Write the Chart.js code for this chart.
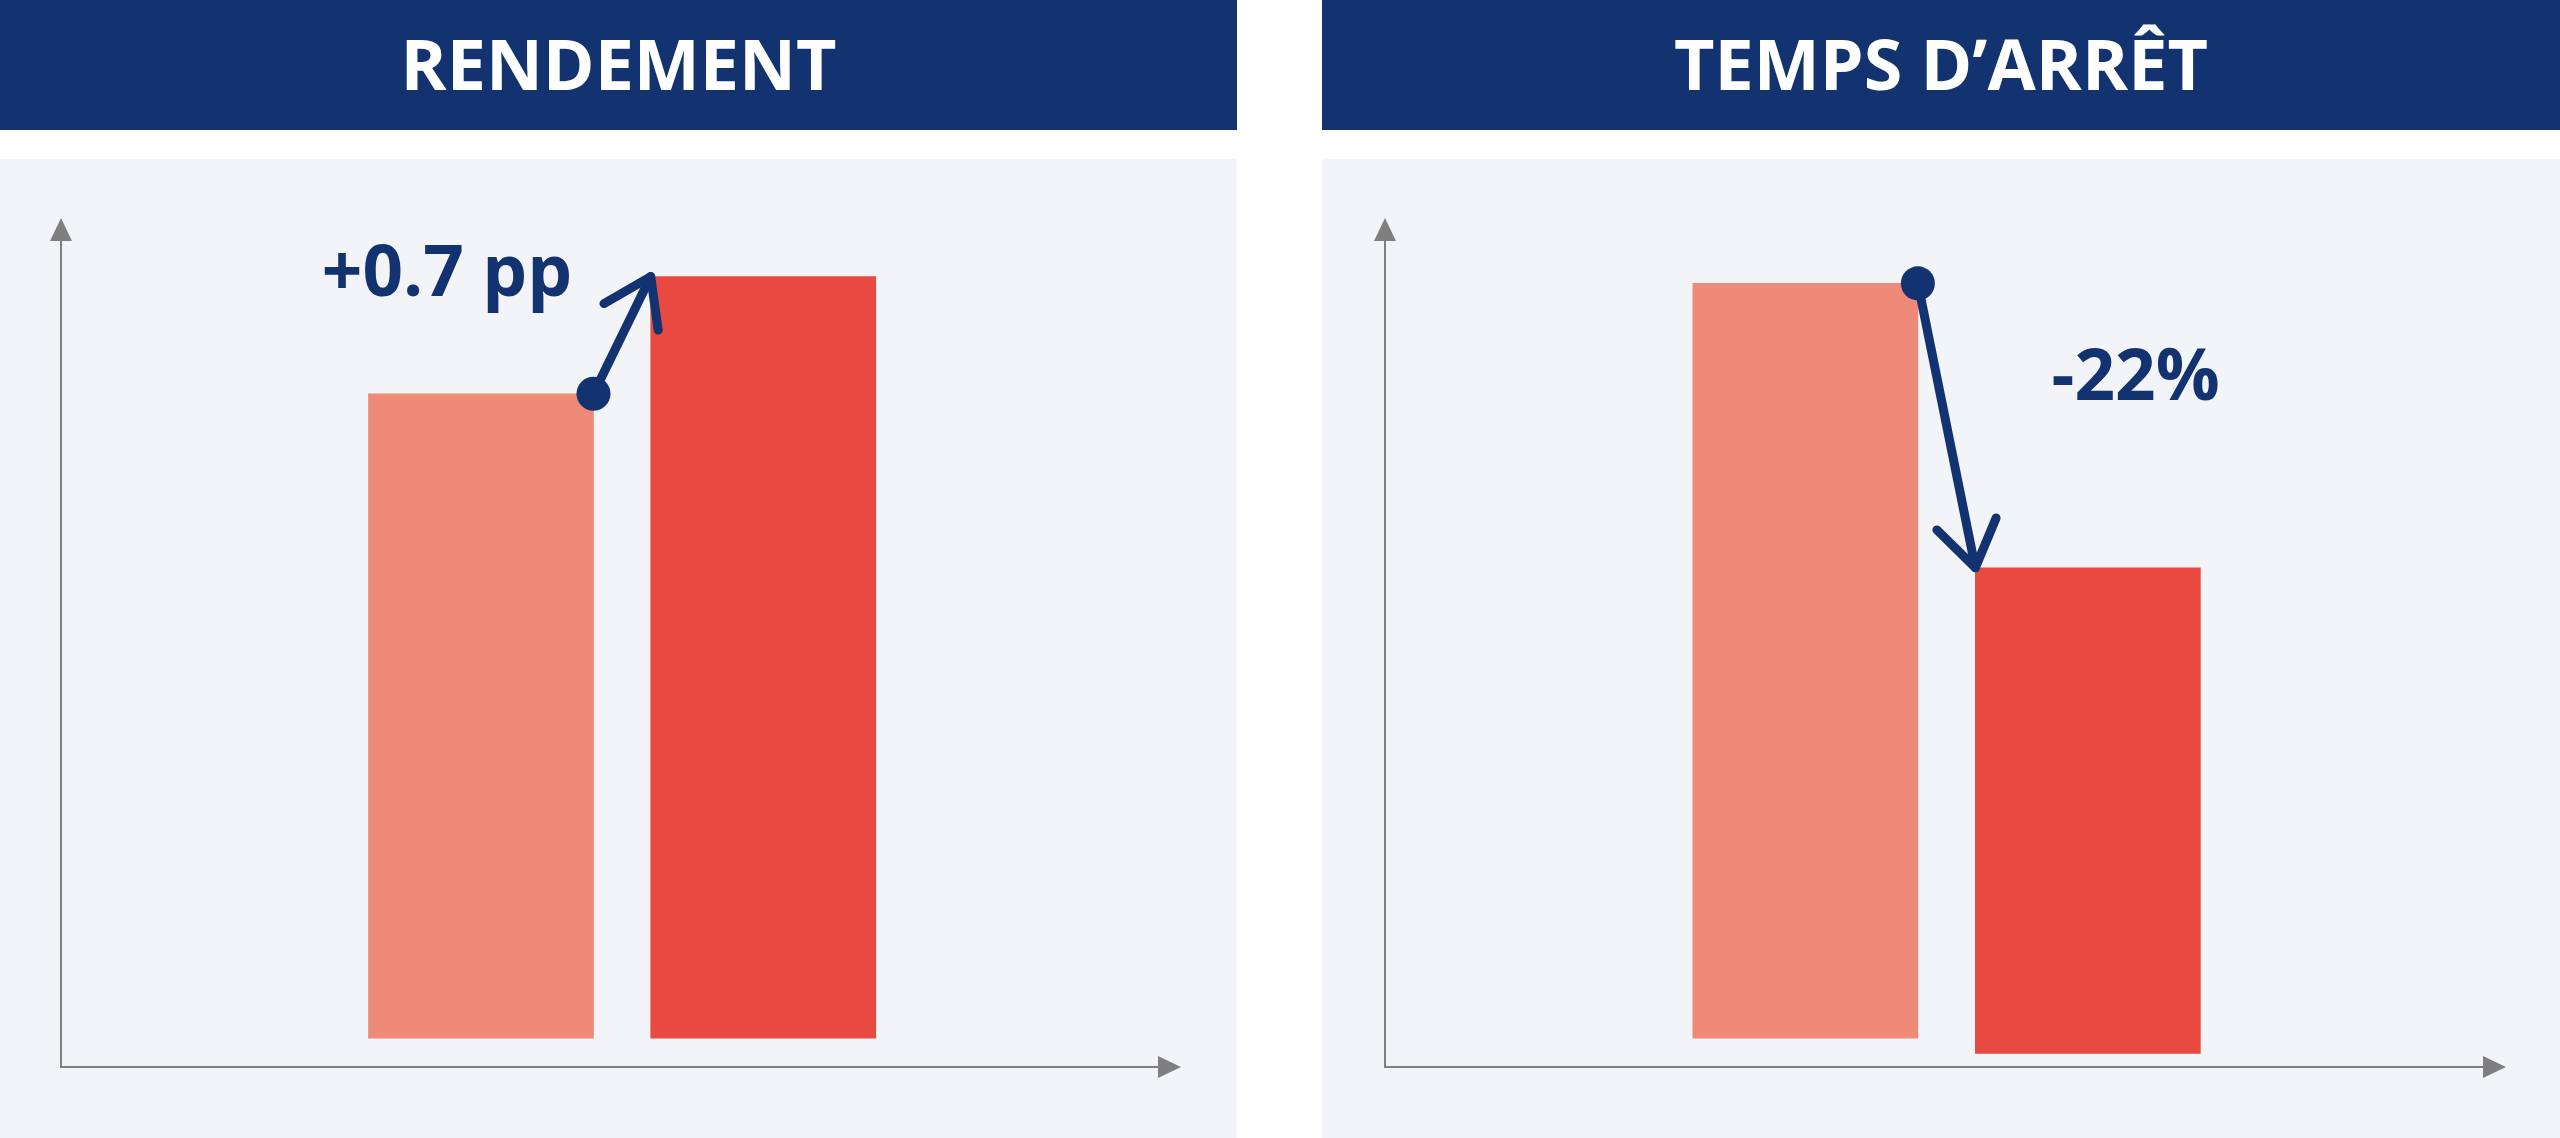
<!DOCTYPE html>
<html lang="fr">
<head>
<meta charset="utf-8">
<title>Rendement et temps d’arrêt</title>
<script src="https://cdn.jsdelivr.net/npm/chart.js@4.4.1/dist/chart.umd.min.js"></script>
<style>
	html, body { margin: 0; padding: 0; background: #fff; }
	body { width: 2560px; height: 1138px; position: relative; overflow: hidden; font-family: 'Open Sans', sans-serif; }
	.head { position: absolute; top: 0; height: 130px; background: #12336f; color: #fff; font-weight: 700; font-size: 70px; line-height: 126px; text-align: center; }
	.panel { position: absolute; top: 159px; height: 979px; background: #f2f4f7; }
	#head-left, #panel-left { left: 0; width: 1237px; }
	#head-right, #panel-right { left: 1322px; width: 1238px; }
</style>
</head>
<body>
<div class="head" id="head-left"></div>
<div class="head" id="head-right"></div>
<div class="panel" id="panel-left"><canvas id="chart-left"></canvas></div>
<div class="panel" id="panel-right"><canvas id="chart-right"></canvas></div>

<script>
const titles = ['RENDEMENT', 'TEMPS D’ARRÊT']
const categories = ['Avant', 'Après']
// where each bar sits along the x axis (0-100)
const slots = [37.5, 62.7]

// floating bars: [start, end] on a 0-100 axis
const rendementStart = [3.4, 3.4]
const rendementEnd = [79.3, 93.1]
const arretStart = [3.4, 1.6]
const arretEnd = [92.3, 58.8]

const changeLabels = ['+0.7 pp', '-22%']

const NAVY = '#12336f'
const AXIS = '#7f7f7f'
const LIGHT = '#ee8a77'
const DARK = '#e84a42'

document.getElementById('head-left').textContent = titles[0]
document.getElementById('head-right').textContent = titles[1]

const arrowAxes = {
	id: 'arrowAxes',
	beforeDatasetsDraw(chart) {
		const { ctx, scales: { x, y } } = chart
		const x0 = x.getPixelForValue(x.min), x1 = x.getPixelForValue(x.max)
		const y0 = y.getPixelForValue(y.min), y1 = y.getPixelForValue(y.max)
		ctx.save()
		ctx.strokeStyle = AXIS
		ctx.fillStyle = AXIS
		ctx.lineWidth = 2
		ctx.beginPath()
		ctx.moveTo(x0, y1 + 20)
		ctx.lineTo(x0, y0)
		ctx.lineTo(x1 - 20, y0)
		ctx.stroke()
		ctx.beginPath()
		ctx.moveTo(x0, y1)
		ctx.lineTo(x0 - 11, y1 + 23)
		ctx.lineTo(x0 + 11, y1 + 23)
		ctx.fill()
		ctx.beginPath()
		ctx.moveTo(x1, y0)
		ctx.lineTo(x1 - 23, y0 - 11)
		ctx.lineTo(x1 - 23, y0 + 11)
		ctx.fill()
		ctx.restore()
	}
}

// arrow from the top corner of the first bar to the top corner of the second
const changeArrow = {
	id: 'changeArrow',
	afterDatasetsDraw(chart, args, opts) {
		const [a, b] = chart.getDatasetMeta(0).data
		if (!a || !b) return
		const top = el => Math.min(el.y, el.base)
		const sx = a.x + a.width / 2, sy = top(a)
		const ex = b.x - b.width / 2, ey = top(b)
		const ang = Math.atan2(ey - sy, ex - sx)
		const { ctx } = chart
		ctx.save()
		ctx.strokeStyle = NAVY
		ctx.fillStyle = NAVY
		ctx.lineWidth = 9
		ctx.lineCap = 'round'
		ctx.lineJoin = 'round'
		ctx.beginPath()
		ctx.moveTo(sx, sy)
		ctx.lineTo(ex, ey)
		ctx.stroke()
		const wing = 54, spread = 34 * Math.PI / 180
		ctx.beginPath()
		ctx.moveTo(ex - wing * Math.cos(ang - spread), ey - wing * Math.sin(ang - spread))
		ctx.lineTo(ex, ey)
		ctx.lineTo(ex - wing * Math.cos(ang + spread), ey - wing * Math.sin(ang + spread))
		ctx.stroke()
		ctx.beginPath()
		ctx.arc(sx, sy, 17, 0, Math.PI * 2)
		ctx.fill()

		ctx.font = 'bold 71px "Open Sans"'
		ctx.textAlign = opts.align
		ctx.textBaseline = 'alphabetic'
		ctx.fillText(opts.text, (sx + ex) / 2 + opts.dx, (sy + ey) / 2 + opts.dy)
		ctx.restore()
	}
}

function makeChart(id, starts, ends, label, padLeft, padRight) {
	return new Chart(document.getElementById(id), {
		type: 'bar',
		data: {
			labels: categories,
			datasets: [{
				data: categories.map((c, i) => ({ x: slots[i], y: [starts[i], ends[i]] })),
				backgroundColor: [LIGHT, DARK],
				borderWidth: 0,
				barThickness: 225
			}]
		},
		options: {
			responsive: true,
			maintainAspectRatio: false,
			animation: false,
			layout: {
				padding: { left: padLeft, right: padRight, top: 59, bottom: 71 }
			},
			scales: {
				x: { type: 'linear', min: 0, max: 100, offset: false, display: false },
				y: { min: 0, max: 100, display: false }
			},
			plugins: {
				legend: { display: false },
				tooltip: { enabled: false },
				changeArrow: label
			}
		},
		plugins: [arrowAxes, changeArrow]
	})
}

makeChart('chart-left', rendementStart, rendementEnd, { text: changeLabels[0], align: 'right', dx: -50, dy: -39 }, 61, 56)
makeChart('chart-right', arretStart, arretEnd, { text: changeLabels[1], align: 'left', dx: 105, dy: -26 }, 63, 54)
</script>
</body>
</html>
